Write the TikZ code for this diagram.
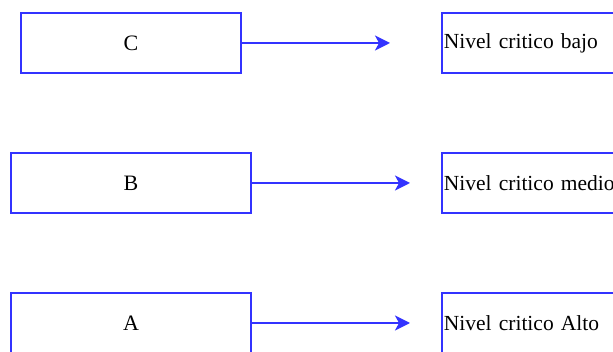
\documentclass[tikz,border=0pt]{standalone}
\usepackage{fontspec}
\setmainfont{Liberation Serif}
\usetikzlibrary{arrows.meta}
\definecolor{lineblue}{HTML}{3333FF}
\tikzset{
  lbox/.style={draw=lineblue, line width=1.8pt, fill=white, inner sep=0pt, font=\fontsize{22}{24}\selectfont},
  rbox/.style={draw=lineblue, line width=1.8pt, fill=white, inner sep=0pt, minimum width=200pt, minimum height=60pt, text width=196pt, align=left, font=\fontsize{21.5}{24}\selectfont},
  conn/.style={draw=lineblue, line width=1.8pt, -{Stealth[length=15pt,width=15pt,inset=4pt]}}
}
\begin{document}
\begin{tikzpicture}[x=1pt,y=-1pt]
\useasboundingbox (0,0) rectangle (613,352);
\clip (0,0) rectangle (613,352);
\node[lbox, minimum width=220pt, minimum height=60pt] (c) at (131,43) {C};
\node[lbox, minimum width=240pt, minimum height=60pt] (b) at (131,183) {B};
\node[lbox, minimum width=240pt, minimum height=60pt] (a) at (131,323) {A};
\node[rbox, anchor=west] (cr) at (441,43) {\hspace*{0pt}Nivel critico bajo};
\node[rbox, anchor=west] (br) at (441,183) {\hspace*{0pt}Nivel critico medio};
\node[rbox, anchor=west] (ar) at (441,323) {\hspace*{0pt}Nivel critico Alto};
\coordinate (ct) at (390,43);
\coordinate (bt) at (410,183);
\coordinate (at) at (410,323);
\draw[conn] (c.east) -- (ct);
\draw[conn] (b.east) -- (bt);
\draw[conn] (a.east) -- (at);
\end{tikzpicture}
\end{document}
